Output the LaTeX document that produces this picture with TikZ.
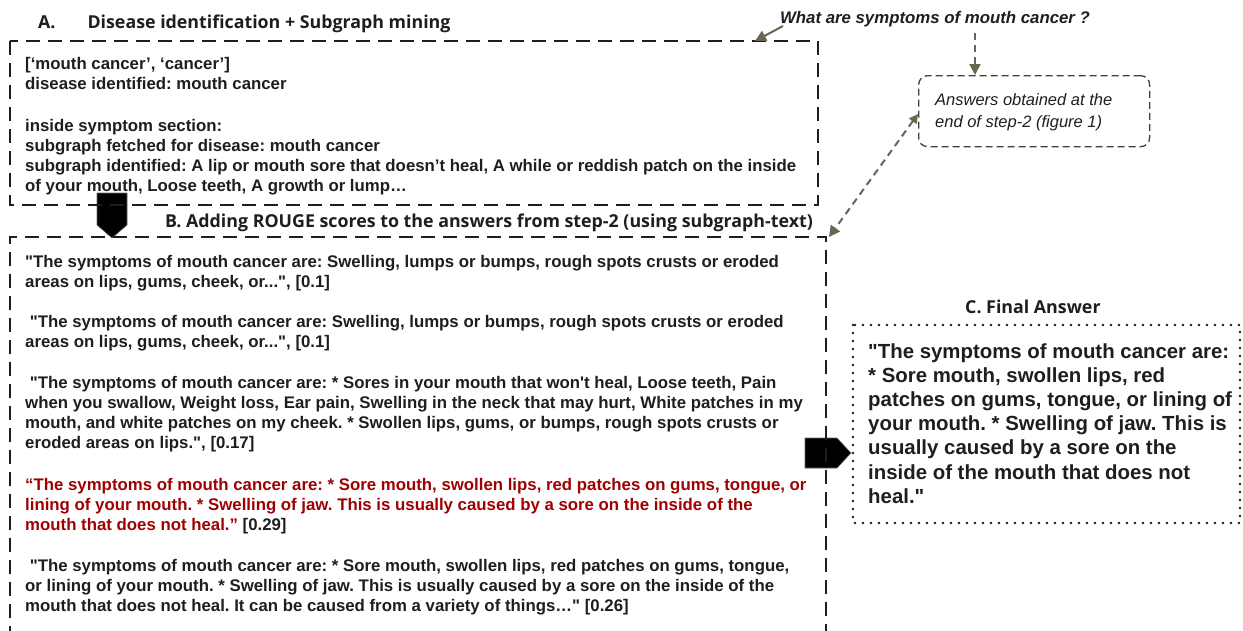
\documentclass[tikz,border=0pt]{standalone}
\usepackage{fontspec}
\setmainfont{Liberation Sans}
\newfontfamily\titlefont{Open Sans}
\usetikzlibrary{arrows.meta}
\definecolor{ink}{HTML}{1E1E1E}
\definecolor{darkred}{HTML}{A00000}
\definecolor{arrowgrey}{HTML}{6B6452}
\newcommand{\dq}{\textquotedbl}
\newcommand{\sq}{\textquotesingle}
\tikzset{
  bigbox/.style={draw=ink, line width=2.5pt, dash pattern=on 14pt off 8pt},
  dotbox/.style={draw=ink, line width=2.6pt, line cap=round, dash pattern=on 0pt off 8pt},
  body/.style={anchor=north west, inner sep=0pt, align=left, text=ink, font=\fontsize{16.8}{20}\selectfont\bfseries\frenchspacing},
  final/.style={anchor=north west, inner sep=0pt, align=left, text=ink, font=\fontsize{20.4}{24.2}\selectfont\bfseries\frenchspacing},
  title/.style={anchor=base west, inner sep=0pt, text=ink, font=\titlefont\fontsize{17.8}{20}\selectfont\bfseries},
  fatarrow/.style={fill=black, draw=arrowgrey, line width=0.6pt},
  qarrow/.style={draw=arrowgrey, line width=2pt, -{Triangle[length=11pt,width=11pt]}},
  dqarrow/.style={qarrow, dash pattern=on 7pt off 5pt},
}
\begin{document}
\begin{tikzpicture}[x=1pt,y=-1pt]
\useasboundingbox (0,0) rectangle (1243,630);
% fat arrows (below the box borders)
\draw[fatarrow] (97,193) -- (127,193) -- (127,225) -- (112,238) -- (97,225) -- cycle;
\draw[fatarrow] (805,438) -- (837,438) -- (851,453) -- (837,468) -- (805,468) -- cycle;
% Box A
\draw[bigbox] (10,41) rectangle (818,205);
\node[title] (ta) at (38,28) {A.\hspace{32pt}Disease identification + Subgraph mining};
\node[body] (a1) at (25,55) {\strut[‘mouth cancer’, ‘cancer’]\\disease identified: mouth cancer};
\node[body] (a2) at (25,117) {\strut inside symptom section:\\subgraph fetched for disease: mouth cancer\\subgraph identified: A lip or mouth sore that doesn’t heal, A while or reddish patch on the inside\\of your mouth, Loose teeth, A growth or lump…};
% Box B
\node[title] (tb) at (165,227) {B. Adding ROUGE scores to the answers from step-2 (using subgraph-text)};
\draw[bigbox] (10,640) -- (10,237) -- (826,237) -- (826,640);
\node[body] (b1) at (25,253) {\strut\dq The symptoms of mouth cancer are: Swelling, lumps or bumps, rough spots crusts or eroded\\areas on lips, gums, cheek, or...\dq, [0.1]};
\node[body] (b2) at (25,313) {\strut\ \dq The symptoms of mouth cancer are: Swelling, lumps or bumps, rough spots crusts or eroded\\areas on lips, gums, cheek, or...\dq, [0.1]};
\node[body] (b3) at (25,374) {\strut\ \dq The symptoms of mouth cancer are: * Sores in your mouth that won\sq t heal, Loose teeth, Pain\\when you swallow, Weight loss, Ear pain, Swelling in the neck that may hurt, White patches in my\\mouth, and white patches on my cheek. * Swollen lips, gums, or bumps, rough spots crusts or\\eroded areas on lips.\dq, [0.17]};
\node[body] (b4) at (25,476) {\strut\textcolor{darkred}{“The symptoms of mouth cancer are: * Sore mouth, swollen lips, red patches on gums, tongue, or}\\\textcolor{darkred}{lining of your mouth. * Swelling of jaw. This is usually caused by a sore on the inside of the}\\\textcolor{darkred}{mouth that does not heal.”} [0.29]};
\node[body] (b5) at (25,557) {\strut\ \dq The symptoms of mouth cancer are: * Sore mouth, swollen lips, red patches on gums, tongue,\\or lining of your mouth. * Swelling of jaw. This is usually caused by a sore on the inside of the\\mouth that does not heal. It can be caused from a variety of things…\dq\ [0.26]};
% Box C
\node[title] (tc) at (965,313) {C. Final Answer};
\draw[dotbox] (853,325) rectangle (1240,523);
\node[final] (c1) at (868,341) {\strut\dq The symptoms of mouth cancer are:\\* Sore mouth, swollen lips, red\\patches on gums, tongue, or lining of\\your mouth. * Swelling of jaw. This is\\usually caused by a sore on the\\inside of the mouth that does not\\heal.\dq};
% question and answers box
\node[anchor=base, inner sep=0pt, text=ink, font=\fontsize{16.8}{18}\selectfont\bfseries\itshape] (q) at (935,23) {What are symptoms of mouth cancer ?};
\node[draw=ink!85, line width=1.3pt, dash pattern=on 7pt off 4pt, rounded corners=9pt, minimum width=231pt, minimum height=71pt, inner sep=0pt, anchor=north west] (ans) at (918,75) {};
\node[anchor=north west, inner sep=0pt, align=left, text=ink, font=\fontsize{16.5}{22}\selectfont\itshape] (anst) at (935,90) {\strut Answers obtained at the\\end of step-2 (figure 1)};
\coordinate (qa) at (783,26);
\coordinate (qb) at (975,33);
\coordinate (atop) at (755,41);
\coordinate (btop) at (829,237);
\coordinate (aleft) at (918,114);
\draw[qarrow] (qa) -- (atop);
\draw[dqarrow] (qb) -- (ans.north -| qb);
\draw[dqarrow, {Triangle[length=9pt,width=9pt]}-{Triangle[length=11pt,width=11pt]}] (aleft) -- (btop);
\end{tikzpicture}
\end{document}
